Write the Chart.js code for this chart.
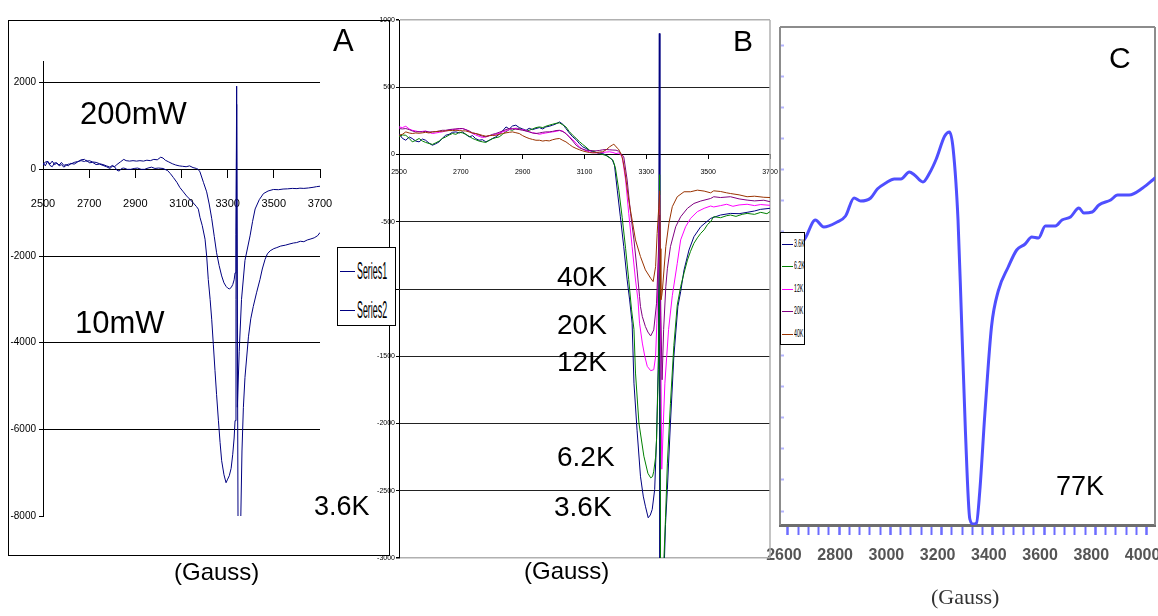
<!DOCTYPE html>
<html><head><meta charset="utf-8">
<script src="https://cdn.jsdelivr.net/npm/chart.js@4.4.1/dist/chart.umd.min.js"></script>
<style>
html,body{margin:0;padding:0;background:#fff;}
#wrap{position:relative;width:1158px;height:616px;overflow:hidden;background:#fff;}
canvas{position:absolute;left:0;top:0;}
.t{position:absolute;font-family:'Liberation Sans',Arial,sans-serif;line-height:1;white-space:nowrap;color:#000;}
.lg{position:absolute;background:#fff;border:1px solid #000;box-sizing:border-box;}
.li{position:absolute;height:0;}
.lt{position:absolute;font-family:'Liberation Sans',Arial,sans-serif;line-height:1;white-space:nowrap;transform-origin:0 50%;color:#000;}
</style></head>
<body><div id="wrap">
<div style="position:absolute;left:8px;top:20px;width:382px;height:536px;border:1px solid #000;box-sizing:border-box;"></div>
<canvas id="cC" width="1158" height="616"></canvas>
<canvas id="cA" width="1158" height="616"></canvas>
<canvas id="cB" width="1158" height="616"></canvas>

<div class="t" style="left:333px;top:25px;font-size:31px;">A</div>
<div class="t" style="left:80px;top:98px;font-size:31px;">200mW</div>
<div class="t" style="left:75px;top:307px;font-size:31px;">10mW</div>
<div class="t" style="left:314px;top:493px;font-size:27px;">3.6K</div>
<div class="t" style="left:174px;top:560px;font-size:24px;">(Gauss)</div>

<div class="t" style="left:733px;top:26px;font-size:30px;">B</div>
<div class="t" style="left:557px;top:263px;font-size:28px;">40K</div>
<div class="t" style="left:557px;top:311px;font-size:28px;">20K</div>
<div class="t" style="left:557px;top:348px;font-size:28px;">12K</div>
<div class="t" style="left:557px;top:443px;font-size:28px;">6.2K</div>
<div class="t" style="left:554px;top:493px;font-size:28px;">3.6K</div>
<div class="t" style="left:524px;top:559px;font-size:24px;">(Gauss)</div>

<div class="t" style="left:1109px;top:43px;font-size:30px;">C</div>
<div class="t" style="left:1056px;top:473px;font-size:27px;">77K</div>
<div class="t" style="left:931px;top:586px;font-size:22px;font-family:'Liberation Serif','Times New Roman',serif;color:#333;">(Gauss)</div>

<div id="legA" class="lg" style="left:337px;top:247px;width:59px;height:79px;"></div>
<div id="legB" class="lg" style="left:780px;top:232px;width:25px;height:113px;"></div>
</div>
<script>
// ---------- Panel A (3.6K, two microwave powers) ----------
const aXTicks = [2500, 2700, 2900, 3100, 3300, 3500, 3700];
const aYTicks = [-8000, -6000, -4000, -2000, 0, 2000];
const aSeriesNames = ['Series1', 'Series2'];
const aSeries1 = [[2500,150],[2510,80],[2520,190],[2530,120],[2540,190],[2550,110],[2560,140],[2570,100],[2580,160],[2590,90],[2600,110],[2610,80],[2620,140],[2635,120],[2650,170],[2665,220],[2680,230],[2690,180],[2700,200],[2715,170],[2730,160],[2745,130],[2760,110],[2775,80],[2790,50],[2800,90],[2810,60],[2820,110],[2835,170],[2850,230],[2860,200],[2875,190],[2890,200],[2905,190],[2920,200],[2935,190],[2950,210],[2965,200],[2980,230],[2995,220],[3010,280],[3020,260],[3030,210],[3045,170],[3060,130],[3075,100],[3090,80],[3105,70],[3120,60],[3135,80],[3150,40],[3165,20],[3172,0],[3180,-58],[3195,-300],[3209,-520],[3220,-800],[3231,-1140],[3242,-1550],[3252,-1925],[3263,-2220],[3274,-2460],[3284,-2620],[3293,-2700],[3300,-2740],[3307,-2760],[3315,-2730],[3322,-2660],[3328,-2550],[3332,-2390],[3336,-1500],[3339,1920],[3342,-5490],[3350,-4200],[3360,-3000],[3375,-2100],[3397,-1535],[3408,-1200],[3419,-915],[3437,-700],[3455,-560],[3475,-500],[3498,-465],[3520,-470],[3540,-455],[3560,-450],[3580,-440],[3600,-445],[3613,-435],[3630,-440],[3650,-430],[3670,-415],[3685,-400],[3700,-390]];
const aSeries2 = [[2500,100],[2510,170],[2520,180],[2530,90],[2540,60],[2550,150],[2560,150],[2570,80],[2580,110],[2590,50],[2600,90],[2610,120],[2620,120],[2635,160],[2650,180],[2665,200],[2680,180],[2690,210],[2700,150],[2715,160],[2730,110],[2745,120],[2760,90],[2775,60],[2790,20],[2800,70],[2810,60],[2820,-20],[2830,-40],[2840,20],[2850,30],[2865,0],[2880,0],[2895,20],[2910,30],[2925,0],[2940,0],[2955,30],[2970,50],[2985,20],[3000,30],[3020,20],[3040,-30],[3052,-100],[3065,-190],[3080,-300],[3093,-420],[3108,-520],[3122,-615],[3136,-690],[3150,-770],[3165,-860],[3173,-920],[3180,-1107],[3190,-1300],[3202,-1612],[3209,-2000],[3216,-2542],[3224,-3000],[3231,-3472],[3238,-4050],[3245,-4637],[3252,-5200],[3260,-5802],[3267,-6300],[3274,-6725],[3284,-7050],[3293,-7232],[3300,-7150],[3307,-7071],[3315,-6900],[3322,-6575],[3328,-6200],[3332,-5800],[3336,-3000],[3339,1500],[3345,-8300],[3356,-8300],[3362,-6500],[3368,-5500],[3375,-4800],[3390,-3865],[3400,-3450],[3411,-3163],[3425,-2850],[3440,-2542],[3450,-2300],[3462,-2078],[3472,-1950],[3484,-1880],[3500,-1830],[3513,-1806],[3530,-1770],[3550,-1750],[3570,-1720],[3585,-1700],[3599,-1690],[3615,-1660],[3630,-1670],[3645,-1630],[3657,-1612],[3675,-1580],[3690,-1530],[3700,-1458]];

// ---------- Panel B (temperature series) ----------
const bXTicks = [2500, 2700, 2900, 3100, 3300, 3500, 3700];
const bYTicks = [-3000, -2500, -2000, -1500, -1000, -500, 0, 500, 1000];
const bNames = ['3.6K', '6.2K', '12K', '20K', '40K'];
const b36 = [[2500,156],[2511,120],[2522,106],[2533,130],[2543,119],[2554,100],[2565,94],[2576,115],[2586,106],[2597,85],[2608,69],[2619,80],[2630,94],[2640,120],[2651,143],[2662,150],[2673,165],[2684,168],[2695,160],[2705,168],[2716,150],[2727,131],[2738,140],[2748,118],[2759,106],[2770,110],[2781,94],[2792,105],[2803,120],[2813,131],[2824,150],[2835,175],[2846,205],[2857,190],[2867,212],[2878,218],[2889,200],[2900,190],[2911,180],[2921,195],[2932,185],[2943,193],[2954,200],[2965,190],[2975,205],[2986,210],[2997,218],[3008,228],[3019,242],[3030,225],[3040,193],[3051,160],[3062,131],[3073,110],[3084,80],[3094,57],[3105,45],[3116,30],[3127,20],[3138,15],[3148,10],[3159,7],[3170,-5],[3181,-22],[3190,-40],[3197,-80],[3206,-265],[3216,-463],[3227,-685],[3238,-933],[3246,-1081],[3254,-1254],[3260,-1700],[3270,-2050],[3281,-2392],[3290,-2540],[3297,-2615],[3306,-2701],[3313,-2680],[3319,-2639],[3327,-2491],[3333,-2120],[3339,-1500],[3342,900],[3344,-3200],[3356,-3200],[3362,-2750],[3368,-2491],[3378,-1996],[3389,-1502],[3402,-1131],[3411,-1020],[3422,-858],[3438,-710],[3454,-611],[3476,-537],[3508,-475],[3540,-450],[3572,-438],[3600,-440],[3626,-430],[3650,-420],[3669,-408],[3700,-400]];
const b62 = [[2500,131],[2511,145],[2522,143],[2533,120],[2543,94],[2554,105],[2565,119],[2576,100],[2586,90],[2597,82],[2608,75],[2619,87],[2630,100],[2640,119],[2651,130],[2662,145],[2673,156],[2684,150],[2695,165],[2705,161],[2716,150],[2727,135],[2738,119],[2748,110],[2759,100],[2770,94],[2781,90],[2792,106],[2803,118],[2813,125],[2824,131],[2835,150],[2846,170],[2857,185],[2867,180],[2878,195],[2889,193],[2900,185],[2911,175],[2921,180],[2932,190],[2943,200],[2954,205],[2965,200],[2975,210],[2986,218],[2997,225],[3008,232],[3019,235],[3030,220],[3040,205],[3051,170],[3062,143],[3073,120],[3084,95],[3094,75],[3105,55],[3116,32],[3127,25],[3138,15],[3148,7],[3159,0],[3170,-8],[3185,-30],[3192,-42],[3200,-100],[3211,-265],[3222,-470],[3233,-700],[3243,-930],[3252,-1150],[3260,-1300],[3265,-1625],[3276,-1996],[3292,-2243],[3305,-2370],[3314,-2404],[3320,-2395],[3324,-2355],[3330,-2250],[3333,-2120],[3339,-1600],[3342,-600],[3343,-150],[3346,-3200],[3353,-3200],[3357,-3000],[3362,-2700],[3368,-2300],[3378,-1850],[3389,-1420],[3400,-1120],[3411,-983],[3422,-880],[3433,-785],[3443,-720],[3454,-660],[3465,-620],[3476,-586],[3487,-560],[3498,-520],[3508,-500],[3518,-462],[3540,-470],[3560,-455],[3572,-450],[3590,-460],[3610,-445],[3626,-438],[3650,-445],[3670,-430],[3690,-440],[3700,-425]];
const b12 = [[2500,205],[2511,200],[2522,210],[2533,190],[2543,180],[2554,175],[2565,168],[2576,172],[2586,175],[2597,165],[2608,156],[2619,160],[2630,165],[2640,168],[2651,175],[2662,180],[2673,185],[2684,188],[2695,190],[2705,193],[2716,185],[2727,170],[2738,156],[2748,145],[2759,135],[2770,126],[2781,132],[2792,140],[2803,143],[2813,150],[2824,158],[2835,168],[2846,175],[2857,185],[2867,193],[2878,195],[2889,188],[2900,185],[2911,178],[2921,170],[2932,161],[2943,158],[2954,150],[2965,156],[2975,160],[2986,165],[2997,168],[3008,172],[3019,178],[3029,175],[3040,155],[3051,131],[3062,110],[3073,85],[3083,57],[3094,40],[3105,28],[3116,20],[3127,15],[3138,12],[3148,12],[3159,15],[3170,18],[3181,20],[3192,15],[3202,7],[3211,12],[3222,-17],[3233,-190],[3243,-437],[3254,-685],[3265,-933],[3273,-1081],[3278,-1254],[3287,-1402],[3295,-1500],[3303,-1575],[3314,-1607],[3324,-1600],[3330,-1502],[3334,-1254],[3339,-800],[3343,-300],[3347,-1500],[3350,-2340],[3355,-2000],[3360,-1700],[3372,-1300],[3384,-1050],[3400,-809],[3411,-635],[3427,-537],[3443,-475],[3465,-425],[3487,-400],[3508,-383],[3518,-390],[3540,-380],[3560,-370],[3580,-385],[3600,-375],[3626,-370],[3650,-380],[3670,-372],[3700,-378]];
const b20 = [[2500,193],[2511,190],[2522,193],[2533,185],[2543,175],[2554,168],[2565,170],[2576,168],[2586,172],[2597,168],[2608,168],[2619,170],[2630,175],[2640,180],[2651,180],[2662,185],[2673,188],[2684,190],[2695,193],[2705,193],[2716,185],[2727,175],[2738,160],[2748,156],[2759,145],[2770,136],[2781,131],[2792,140],[2803,150],[2813,156],[2824,165],[2835,175],[2846,185],[2857,193],[2867,190],[2878,188],[2889,185],[2900,180],[2911,175],[2921,168],[2932,160],[2943,156],[2954,160],[2965,165],[2975,168],[2986,168],[2997,172],[3008,178],[3019,180],[3030,170],[3040,156],[3051,130],[3062,100],[3073,69],[3084,50],[3094,40],[3105,32],[3116,30],[3127,28],[3137,27],[3148,30],[3159,35],[3170,37],[3181,35],[3192,33],[3202,32],[3210,25],[3218,7],[3227,-17],[3238,-190],[3249,-437],[3260,-635],[3270,-858],[3278,-1057],[3281,-1130],[3287,-1205],[3297,-1279],[3305,-1320],[3314,-1349],[3324,-1304],[3333,-1106],[3338,-800],[3343,-450],[3347,-1200],[3351,-1675],[3356,-1300],[3363,-983],[3368,-850],[3378,-685],[3395,-537],[3411,-463],[3433,-400],[3454,-364],[3476,-346],[3508,-327],[3518,-314],[3540,-320],[3572,-314],[3600,-330],[3626,-339],[3650,-345],[3680,-340],[3700,-351]];
const b40 = [[2500,143],[2511,150],[2522,168],[2533,160],[2543,156],[2554,160],[2565,158],[2576,161],[2586,165],[2597,160],[2608,168],[2619,170],[2630,172],[2640,173],[2651,175],[2662,178],[2673,178],[2684,180],[2695,178],[2705,176],[2716,175],[2727,168],[2738,160],[2748,156],[2759,150],[2770,142],[2781,136],[2792,140],[2803,142],[2813,143],[2824,150],[2835,156],[2846,161],[2857,165],[2867,168],[2878,162],[2889,156],[2900,140],[2911,128],[2921,119],[2932,112],[2943,106],[2954,106],[2965,100],[2975,104],[2986,101],[2997,110],[3008,116],[3019,119],[3030,105],[3040,94],[3051,75],[3062,57],[3073,45],[3084,35],[3094,27],[3105,20],[3116,15],[3127,12],[3138,14],[3148,18],[3159,20],[3170,35],[3181,57],[3190,70],[3195,77],[3202,57],[3210,40],[3219,0],[3224,-42],[3230,-116],[3243,-339],[3254,-487],[3265,-635],[3281,-759],[3297,-858],[3314,-920],[3322,-945],[3330,-834],[3335,-587],[3340,-400],[3343,-270],[3345,-700],[3347,-1080],[3350,-1050],[3352,-1007],[3363,-685],[3373,-512],[3384,-388],[3400,-314],[3422,-277],[3443,-277],[3465,-265],[3487,-272],[3508,-285],[3518,-270],[3540,-275],[3560,-285],[3572,-290],[3600,-300],[3626,-314],[3650,-310],[3680,-318],[3700,-320]];

// ---------- Panel C (77K) ----------
const cXMajor = [2600, 2800, 3000, 3200, 3400, 3600, 3800, 4000];
const cYMarks = [14, 46, 77, 108, 139, 170, 201, 232, 263, 294, 325, 356, 387, 418, 449, 480];
const c77 = [[2569,255],[2620,270],[2668,287],[2707,305],[2740,298],[2792,303],[2825,309],[2858,327],[2884,324],[2923,327],[2949,336],[2982,342],[3015,346],[3041,346],[3074,353],[3094,350],[3127,343],[3153,352],[3179,366],[3212,389],[3231,393],[3245,376],[3264,305],[3277,211],[3293,93],[3310,6],[3323,1],[3336,2],[3349,34],[3369,112],[3395,199],[3421,234],[3460,258],[3493,275],[3526,281],[3552,288],[3578,287],[3605,299],[3644,299],[3670,305],[3703,308],[3736,317],[3755,312],[3788,313],[3814,320],[3860,325],[3887,330],[3932,330],[3985,337],[4024,345],[4033,347]];

const sans = "'Liberation Sans',Arial,sans-serif";
const toXY = arr => arr.map(p => ({x: p[0], y: p[1]}));
const noSidePad = s => { s.paddingLeft = 0; s.paddingRight = 0; };

const edgePlugin = {
  id: 'edge',
  beforeDatasetsDraw(chart, args, o) {
    if (!o || !o.sides) return;
    const {ctx, chartArea: a} = chart;
    ctx.save();
    ctx.strokeStyle = o.color; ctx.lineWidth = o.width;
    ctx.beginPath();
    o.sides.forEach(s => {
      if (s === 'top') { ctx.moveTo(a.left, a.top); ctx.lineTo(a.right, a.top); }
      if (s === 'right') { ctx.moveTo(a.right, a.top); ctx.lineTo(a.right, a.bottom); }
      if (s === 'left') { ctx.moveTo(a.left, a.top); ctx.lineTo(a.left, a.bottom); }
      if (s === 'bottom') { ctx.moveTo(a.left, a.bottom); ctx.lineTo(a.right, a.bottom); }
    });
    ctx.stroke(); ctx.restore();
  }
};

const base = {
  responsive: false, animation: false, events: [],
  elements: { point: { radius: 0 }, line: { borderWidth: 1, tension: 0 } },
  plugins: { legend: { display: false }, tooltip: { enabled: false } }
};

// ---- Chart A
const aColors = ['#000080', '#000080'];
new Chart(document.getElementById('cA'), {
  type: 'line',
  data: { datasets: [aSeries1, aSeries2].map((d, i) => ({ label: aSeriesNames[i], data: toXY(d), borderColor: aColors[i], borderWidth: 1, fill: false })) },
  options: Object.assign({}, base, {
    layout: { padding: { left: 0, top: 61, right: 838, bottom: 100 } },
    scales: {
      x: {
        type: 'linear', min: 2500, max: 3700, position: { y: 0 },
        afterBuildTicks: s => { s.ticks = aXTicks.map(v => ({ value: v })); },
        afterFit: noSidePad,
        grid: { drawOnChartArea: false, color: '#000', tickLength: 8 },
        border: { color: '#000', width: 1 },
        ticks: { autoSkip: false, maxRotation: 0, padding: 20, color: '#000', font: { family: sans, size: 11 }, callback: v => String(v) }
      },
      y: {
        type: 'linear', min: -8000, max: 2500,
        afterBuildTicks: s => { s.ticks = aYTicks.map(v => ({ value: v })); },
        afterFit: s => { s.width = 43; },
        grid: { color: c => (c.tick && c.tick.value === -8000) ? 'rgba(0,0,0,0)' : '#000', tickColor: '#000', tickLength: 4 },
        border: { color: '#000', width: 1 },
        ticks: { padding: 3, color: '#000', font: { family: sans, size: 10 }, callback: v => String(v) }
      }
    }
  })
});

// ---- Chart B
const bColors = ['#000080', '#008000', '#ff00ff', '#800080', '#993300'];
new Chart(document.getElementById('cB'), {
  type: 'line',
  plugins: [edgePlugin],
  data: { datasets: [b36, b62, b12, b20, b40].map((d, i) => ({ label: bNames[i], data: toXY(d), borderColor: bColors[i], borderWidth: 1, fill: false, order: 5 - i })) },
  options: Object.assign({}, base, {
    layout: { padding: { left: 0, top: 20, right: 388, bottom: 58 } },
    plugins: { legend: { display: false }, tooltip: { enabled: false }, edge: { sides: ['right'], color: '#b0b0b0', width: 1.5 } },
    scales: {
      x: {
        type: 'linear', min: 2500, max: 3700, position: { y: 0 },
        afterBuildTicks: s => { s.ticks = bXTicks.map(v => ({ value: v })); },
        afterFit: noSidePad,
        grid: { drawOnChartArea: false, color: '#000', tickLength: 4 },
        border: { color: '#000', width: 1 },
        ticks: { autoSkip: false, maxRotation: 0, padding: 9, color: '#000', font: { family: sans, size: 7 }, callback: v => String(v) }
      },
      y: {
        type: 'linear', min: -3000, max: 1000,
        afterBuildTicks: s => { s.ticks = bYTicks.map(v => ({ value: v })); },
        afterFit: s => { s.width = 399; },
        grid: { color: c => (c.tick && (c.tick.value === 1000 || c.tick.value === -3000)) ? '#b0b0b0' : '#222', lineWidth: c => (c.tick && (c.tick.value === 1000 || c.tick.value === -3000)) ? 1.5 : 1, tickColor: '#000', tickLength: 3 },
        border: { color: '#000', width: 1 },
        ticks: { padding: 1, color: '#000', font: { family: sans, size: 7 }, callback: v => String(v) }
      }
    }
  })
});

// ---- Chart C
const cMinorTicks = [];
for (let i = 0; i < cXMajor.length; i++) {
  cMinorTicks.push(cXMajor[i]);
  if (i < cXMajor.length - 1) for (let k = 1; k < 5; k++) cMinorTicks.push(cXMajor[i] + k * (cXMajor[i + 1] - cXMajor[i]) / 5);
}
new Chart(document.getElementById('cC'), {
  type: 'line',
  plugins: [edgePlugin],
  data: { datasets: [{ label: '77K', data: toXY(c77), borderColor: '#4f4fff', borderWidth: 3, fill: false, cubicInterpolationMode: 'monotone', borderCapStyle: 'round', borderJoinStyle: 'round' }] },
  options: Object.assign({}, base, {
    layout: { padding: { left: 780, top: 27, right: 3, bottom: 0 } },
    plugins: { legend: { display: false }, tooltip: { enabled: false }, edge: { sides: ['top', 'left', 'right'], color: '#8c8c8c', width: 2 } },
    scales: {
      x: {
        type: 'linear', min: 2569, max: 4033, position: 'bottom',
        afterBuildTicks: s => { s.ticks = cMinorTicks.map(v => ({ value: v })); },
        afterFit: s => { s.height = 91; s.paddingLeft = 0; s.paddingRight = 0; },
        grid: { drawOnChartArea: false, tickColor: '#6c6cff', tickWidth: c => (c.tick && cXMajor.includes(c.tick.value)) ? 2.5 : 2, tickLength: 10 },
        border: { color: '#6e6e6e', width: 3 },
        ticks: { autoSkip: false, maxRotation: 0, padding: 11, labelOffset: -4, color: '#555', font: { family: sans, size: 16, weight: 'bold' }, callback: v => cXMajor.includes(v) ? String(v) : '' }
      },
      y: {
        type: 'linear', min: 0, max: 498,
        afterBuildTicks: s => { s.ticks = cYMarks.map(v => ({ value: v })); },
        afterFit: s => { s.width = 0; },
        grid: { drawOnChartArea: false, tickColor: '#b4b4ff', tickLength: -4, tickWidth: 2 },
        border: { display: false },
        ticks: { display: false }
      }
    }
  })
});

// ---- HTML legends
function buildLegend(id, names, colors, opts) {
  const box = document.getElementById(id);
  names.forEach((n, i) => {
    const y = opts.y0 + i * opts.dy;
    const ln = document.createElement('div');
    ln.className = 'li';
    ln.style.cssText = `left:${opts.lx}px;top:${y}px;width:${opts.lw}px;border-top:${opts.lt}px solid ${colors[i]};`;
    box.appendChild(ln);
    const tx = document.createElement('div');
    tx.className = 'lt';
    tx.textContent = n;
    tx.style.cssText = `left:${opts.tx}px;top:${y - opts.fs * 0.5}px;font-size:${opts.fs}px;transform:scaleX(${opts.sx});`;
    box.appendChild(tx);
  });
}
buildLegend('legA', aSeriesNames, aColors, { y0: 23, dy: 38.5, lx: 2, lw: 15, lt: 1.5, tx: 19, fs: 24, sx: 0.37 });
buildLegend('legB', bNames, bColors, { y0: 10.5, dy: 22.6, lx: 1, lw: 11, lt: 1.5, tx: 13, fs: 10, sx: 0.52 });
</script>
</body></html>
